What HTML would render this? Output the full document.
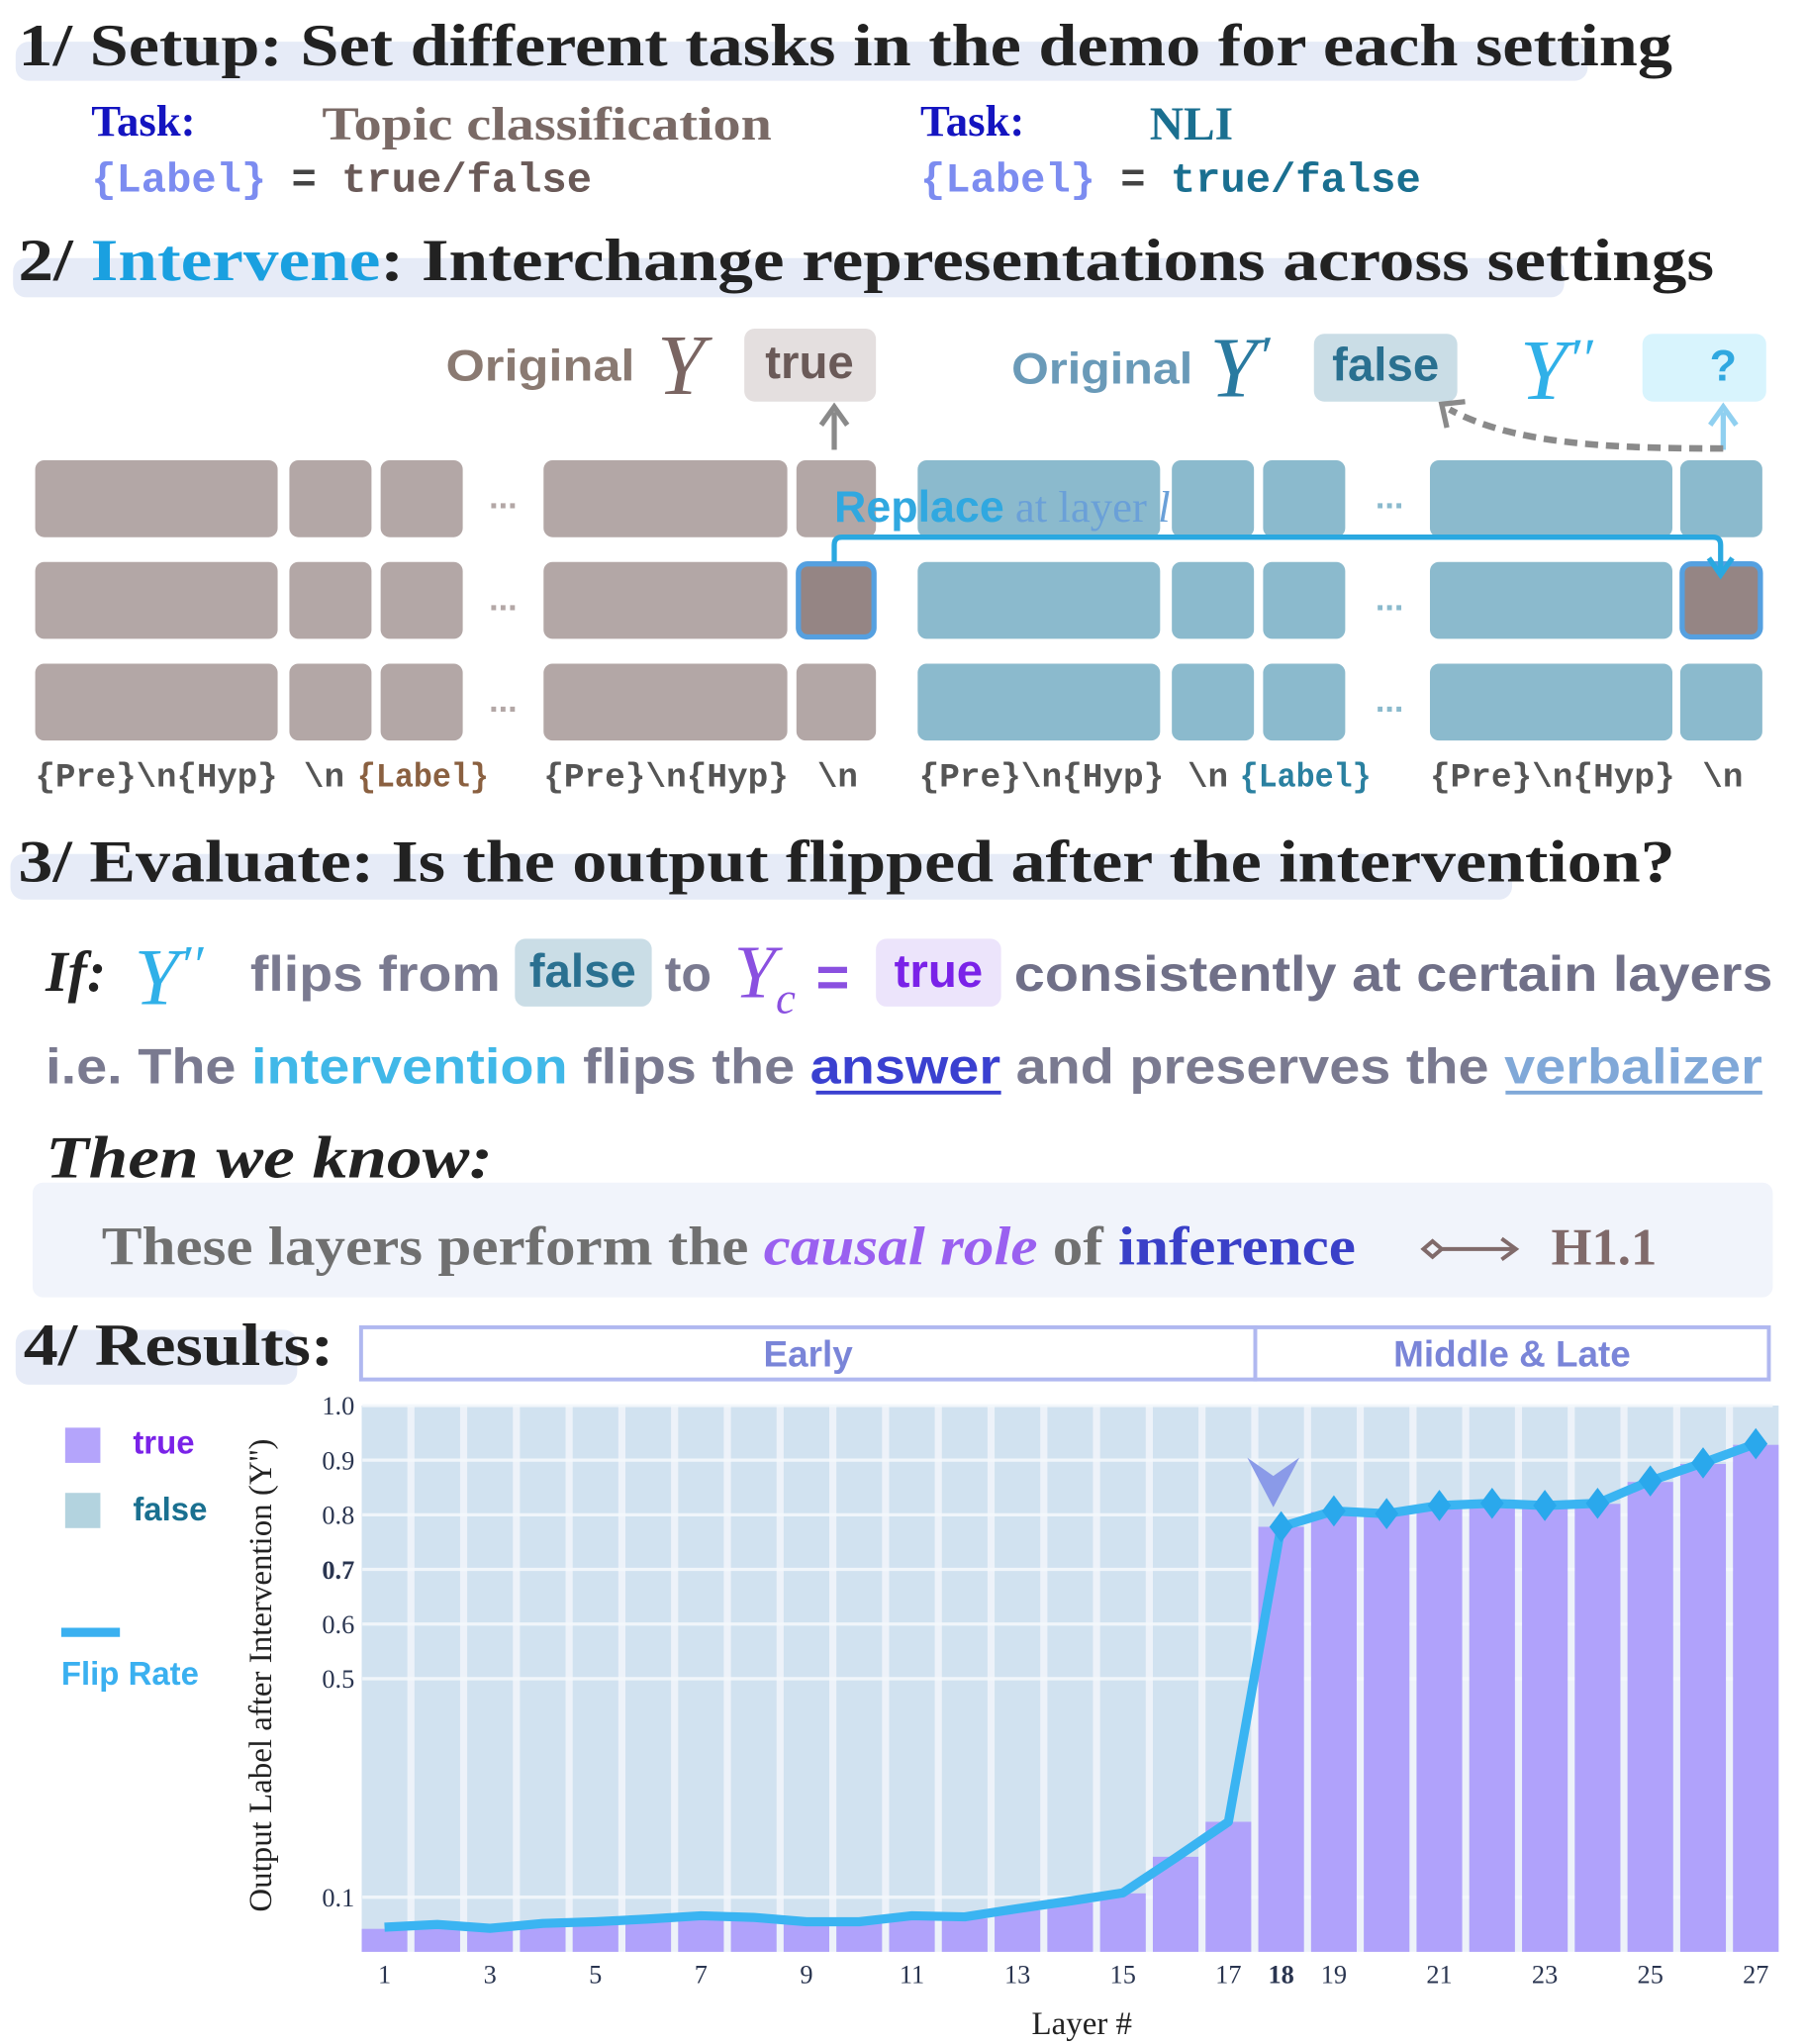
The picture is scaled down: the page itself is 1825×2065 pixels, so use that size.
<!DOCTYPE html>
<html><head><meta charset="utf-8"><style>
html,body{margin:0;padding:0;background:#fff;}
svg{display:block;}
.h{font-family:"Liberation Serif",serif;font-weight:bold;fill:#222;}
.s{font-family:"Liberation Sans",sans-serif;font-weight:bold;}
.m{font-family:"Liberation Mono",monospace;font-weight:bold;}
.r{font-family:"Liberation Serif",serif;}
</style></head><body>
<svg id="root" width="1825" height="2065" viewBox="0 0 1385.5 1567.7" preserveAspectRatio="none" xmlns="http://www.w3.org/2000/svg">
<!-- Section 1 -->
<rect x="12" y="32" width="1206" height="30" rx="10" fill="#e6ebf7"/>
<text class="h" x="14" y="50" font-size="46" textLength="1269" lengthAdjust="spacingAndGlyphs">1/ Setup: Set different tasks in the demo for each setting</text>
<text class="h" x="70" y="104" font-size="34" style="fill:#1414c0">Task:</text>
<text class="r" x="247" y="107" font-size="36" font-weight="bold" fill="#7a6a66" textLength="345" lengthAdjust="spacingAndGlyphs">Topic classification</text>
<text class="m" x="70" y="147" font-size="32"><tspan fill="#7c8cf0">{Label}</tspan><tspan fill="#444"> = </tspan><tspan fill="#6a5a58">true/false</tspan></text>
<text class="h" x="706" y="104" font-size="34" style="fill:#1414c0">Task:</text>
<text class="r" x="882" y="107" font-size="36" font-weight="bold" fill="#1a6f90">NLI</text>
<text class="m" x="706" y="147" font-size="32"><tspan fill="#7c8cf0">{Label}</tspan><tspan fill="#444"> = </tspan><tspan fill="#1a6f90">true/false</tspan></text>

<!-- Section 2 -->
<rect x="10" y="198" width="1190" height="30" rx="10" fill="#e6ebf7"/>
<text class="h" x="14" y="215" font-size="46" textLength="1301" lengthAdjust="spacingAndGlyphs">2/ <tspan style="fill:#1aa0e0">Intervene</tspan>: Interchange representations across settings</text>

<text class="s" x="342" y="292" font-size="34" fill="#8a7a72" textLength="145" lengthAdjust="spacingAndGlyphs">Original</text>
<text class="r" x="504" y="302" font-size="66" font-style="italic" fill="#7a6562">Y</text>
<rect x="571" y="252" width="101" height="56" rx="8" fill="#e4dfdf"/>
<text class="s" x="621" y="290" font-size="36" fill="#6a5a58" text-anchor="middle">true</text>

<text class="s" x="776" y="294" font-size="34" fill="#6a9ab8" textLength="139" lengthAdjust="spacingAndGlyphs">Original</text>
<text class="r" x="928" y="304" font-size="66" font-style="italic" fill="#2a7aa0">Y<tspan font-size="44" dy="-16">′</tspan></text>
<rect x="1008" y="256" width="110" height="52" rx="8" fill="#cadde6"/>
<text class="s" x="1063" y="292" font-size="36" fill="#2a7090" text-anchor="middle">false</text>
<text class="r" x="1166" y="306" font-size="66" font-style="italic" fill="#30b0e8">Y<tspan font-size="44" dy="-16">′′</tspan></text>
<rect x="1260" y="256" width="95" height="52" rx="8" fill="#d8f4fd"/>
<text class="s" x="1322" y="292" font-size="34" fill="#30a8e0" text-anchor="middle">?</text>

<g>
<line x1="640" y1="345" x2="640" y2="316" stroke="#8a8a8a" stroke-width="4"/>
<path d="M630 326 L640 312 L650 326" fill="none" stroke="#8a8a8a" stroke-width="4"/>
<line x1="1322" y1="345" x2="1322" y2="316" stroke="#90d0f0" stroke-width="4"/>
<path d="M1312 326 L1322 312 L1332 326" fill="none" stroke="#90d0f0" stroke-width="4"/>
<path d="M1322 344 C1230 344 1160 340 1112 314" fill="none" stroke="#8a8a8a" stroke-width="5" stroke-dasharray="10,6"/>
<path d="M1110 328 L1106 310 L1124 308" fill="none" stroke="#8a8a8a" stroke-width="4"/>
</g>

<g id="blocks"></g>
<g>
<path d="M640 431 L640 418 Q640 412 646 412 L1314 412 Q1320 412 1320 418 L1320 438" fill="none" stroke="#2aa8e0" stroke-width="4"/>
<path d="M1311 428 L1320 441 L1329 428" fill="none" stroke="#2aa8e0" stroke-width="4"/>
</g>
<text x="640" y="400" font-size="34"><tspan class="s" fill="#30a8e0">Replace</tspan><tspan class="r" fill="#6aa0d8"> at layer </tspan><tspan class="r" font-style="italic" fill="#6aa0d8">l</tspan></text>

<g class="m" font-size="26" fill="#555">
<text x="27" y="603" fill="#555" textLength="186" lengthAdjust="spacingAndGlyphs">{Pre}\n{Hyp}</text>
<text x="233" y="603" fill="#555">\n</text>
<text x="274" y="603" fill="#8a6040" textLength="101" lengthAdjust="spacingAndGlyphs">{Label}</text>
<text x="417" y="603" fill="#555" textLength="188" lengthAdjust="spacingAndGlyphs">{Pre}\n{Hyp}</text>
<text x="627" y="603" fill="#555">\n</text>
<text x="705" y="603" fill="#555" textLength="188" lengthAdjust="spacingAndGlyphs">{Pre}\n{Hyp}</text>
<text x="911" y="603" fill="#555">\n</text>
<text x="951" y="603" fill="#2a80a0" textLength="101" lengthAdjust="spacingAndGlyphs">{Label}</text>
<text x="1097" y="603" fill="#555" textLength="188" lengthAdjust="spacingAndGlyphs">{Pre}\n{Hyp}</text>
<text x="1306" y="603" fill="#555">\n</text>
</g>

<!-- Section 3 -->
<rect x="8" y="655" width="1152" height="35" rx="10" fill="#e6ebf7"/>
<text class="h" x="14" y="676" font-size="46" textLength="1271" lengthAdjust="spacingAndGlyphs">3/ Evaluate: Is the output flipped after the intervention?</text>

<text class="h" x="35" y="760" font-size="44" font-style="italic">If:</text>
<text class="r" x="103" y="770" font-size="62" font-style="italic" fill="#30b0e8">Y<tspan font-size="42" dy="-16">′′</tspan></text>
<text class="s" x="192" y="760" font-size="38" fill="#7a7a90" textLength="192" lengthAdjust="spacingAndGlyphs">flips from</text>
<rect x="395" y="720" width="105" height="52" rx="8" fill="#cadde6"/>
<text class="s" x="447" y="757" font-size="36" fill="#2a7090" text-anchor="middle">false</text>
<text class="s" x="510" y="760" font-size="38" fill="#7a7a90">to</text>
<text class="r" x="563" y="765" font-size="58" font-style="italic" fill="#8a50e0">Y<tspan font-size="34" dy="12">c</tspan></text>
<text class="s" x="626" y="764" font-size="44" fill="#8a50e0">=</text>
<rect x="672" y="720" width="96" height="52" rx="8" fill="#ece4fb"/>
<text class="s" x="720" y="757" font-size="36" fill="#7a22e8" text-anchor="middle">true</text>
<text class="s" x="778" y="760" font-size="38" fill="#707088" textLength="582" lengthAdjust="spacingAndGlyphs">consistently at certain layers</text>

<text class="s" x="35" y="831" font-size="38" fill="#7a7a90" textLength="1317" lengthAdjust="spacingAndGlyphs">i.e. The <tspan fill="#40b8e8">intervention</tspan> flips the <tspan fill="#3a40d0">answer</tspan> and preserves the <tspan fill="#80a8d8">verbalizer</tspan></text>
<line x1="626" y1="838" x2="768" y2="838" stroke="#3a40d0" stroke-width="3"/>
<line x1="1155" y1="838" x2="1352" y2="838" stroke="#80a8d8" stroke-width="3"/>

<text class="h" x="35" y="903" font-size="46" font-style="italic" textLength="343" lengthAdjust="spacingAndGlyphs">Then we know:</text>
<rect x="25" y="907" width="1335" height="88" rx="8" fill="#f1f4fb"/>
<text class="r" x="78" y="970" font-size="42" font-weight="bold" fill="#707070" textLength="962" lengthAdjust="spacingAndGlyphs">These layers perform the <tspan font-style="italic" fill="#9a60f0">causal role</tspan> of <tspan fill="#3a40c8">inference</tspan></text>
<g>
<path d="M1092 958 L1099 952 L1106 958 L1099 964 Z" fill="none" stroke="#806a6a" stroke-width="3"/>
<line x1="1106" y1="958" x2="1162" y2="958" stroke="#806a6a" stroke-width="3"/>
<path d="M1152 950 L1163 958 L1152 966" fill="none" stroke="#806a6a" stroke-width="3"/>
</g>
<text class="r" x="1190" y="970" font-size="40" font-weight="bold" fill="#806a6a">H1.1</text>

<!-- Section 4 -->
<rect x="12" y="1020" width="216" height="42" rx="10" fill="#e6ebf7"/>
<text class="h" x="18" y="1047" font-size="46" textLength="238" lengthAdjust="spacingAndGlyphs">4/ Results:</text>
<rect x="277" y="1018" width="686" height="40" fill="#fff" stroke="#b0b8f0" stroke-width="3"/>
<rect x="963" y="1018" width="394" height="40" fill="#fff" stroke="#b0b8f0" stroke-width="3"/>
<text class="s" x="620" y="1048" font-size="28" fill="#7a85d8" text-anchor="middle">Early</text>
<text class="s" x="1160" y="1048" font-size="28" fill="#7a85d8" text-anchor="middle">Middle &amp; Late</text>

<g>
<rect x="50" y="1095" width="27" height="27" fill="#b4a4fb"/>
<text class="s" x="102" y="1115" font-size="25" fill="#7a22e8">true</text>
<rect x="50" y="1145" width="27" height="27" fill="#b3d3df"/>
<text class="s" x="102" y="1166" font-size="25" fill="#1a7090">false</text>
<line x1="47" y1="1252" x2="92" y2="1252" stroke="#3ab0f0" stroke-width="7"/>
<text class="s" x="47" y="1292" font-size="25" fill="#3ab0f0">Flip Rate</text>
</g>

<g id="chart"></g>
<text class="r" x="0" y="0" font-size="25" fill="#222" text-anchor="middle" transform="translate(208,1285) rotate(-90)">Output Label after Intervention (Y'')</text>
<text class="r" x="830" y="1560" font-size="25" fill="#222" text-anchor="middle">Layer #</text>
</svg>
<script>
const NS='http://www.w3.org/2000/svg';
const blocksG=document.getElementById('blocks');
const cols=[[27,186],[222,63],[292,63],[417,187],[611,61],[704,186],[899,63],[969,63],[1097,186],[1289,63]];
const rowsY=[353,431,509];
rowsY.forEach((ry,ri)=>{
  cols.forEach((c,ci)=>{
    const r=document.createElementNS(NS,'rect');
    const blue=ci>=5;
    const special=ri===1&&(ci===4||ci===9);
    r.setAttribute('x',special?c[0]+1.5:c[0]);r.setAttribute('y',special?ry+1.5:ry);
    r.setAttribute('width',special?c[1]-3:c[1]);r.setAttribute('height',special?56:59);r.setAttribute('rx',7);
    r.setAttribute('fill',special?'#958584':(blue?'#8bbacd':'#b3a7a6'));
    if(special){r.setAttribute('stroke','#55a0e0');r.setAttribute('stroke-width','4');}
    
    
    blocksG.appendChild(r);
  });
  [386,1066].forEach((dx,k)=>{
    const t=document.createElementNS(NS,'text');
    t.setAttribute('x',dx);t.setAttribute('y',ry+37);t.setAttribute('text-anchor','middle');
    t.setAttribute('font-size','26');t.setAttribute('font-family','Liberation Sans, sans-serif');t.setAttribute('font-weight','bold');
    t.setAttribute('fill',k?'#8bbacd':'#b3a7a6');t.textContent='...';
    
    
    blocksG.appendChild(t);
  });
});
</script>
<script>
const layers=[1,2,3,4,5,6,7,8,9,10,11,12,13,14,15,16,17,18,19,20,21,22,23,24,25,26,27];
const trueVals=[0.042,0.047,0.040,0.050,0.052,0.057,0.064,0.061,0.053,0.053,0.064,0.061,0.076,0.090,0.107,0.174,0.238,0.778,0.805,0.800,0.815,0.820,0.815,0.820,0.860,0.893,0.928];
const flipVals=[0.045,0.050,0.043,0.052,0.055,0.060,0.066,0.063,0.055,0.055,0.066,0.064,0.079,0.093,0.108,0.172,0.238,0.778,0.807,0.802,0.817,0.821,0.817,0.821,0.862,0.895,0.930];
const yTicks=[1.0,0.9,0.8,0.7,0.6,0.5,0.1];
const yTickLabels=['1.0','0.9','0.8','0.7','0.6','0.5','0.1'];
const xTickLayers=[1,3,5,7,9,11,13,15,17,18,19,21,23,25,27];
const markerFrom=18;
const g=document.getElementById('chart');
const X0=278,X1=1360,Y0=1497,Y1=1078;
const y=v=>Y0-v*(Y0-Y1);
const step=(1347-295)/(layers.length-1);
const x=l=>295+(l-1)*step;
const bw=35;
function mk(tag,attrs){const e=document.createElementNS(NS,tag);for(const k in attrs)e.setAttribute(k,attrs[k]);g.appendChild(e);return e;}
const bgp=mk('rect',{x:X0,y:Y1,width:X1-X0,height:Y0-Y1,fill:'#edf2f9'});


layers.forEach(l=>{
  const b=mk('rect',{x:x(l)-bw/2,y:Y1,width:bw,height:Y0-Y1,fill:'#d1e2f0'});
  
  
});
yTicks.forEach((v,i)=>{
  const gl=mk('line',{x1:X0,x2:X1,y1:y(v),y2:y(v),stroke:'#f4f8fc','stroke-width':2.5,opacity:0.9});
  
  
  const t=mk('text',{x:272,y:y(v)+7,'text-anchor':'end','font-size':20,'font-family':'Liberation Serif, serif',fill:'#2a3550','font-weight':v===0.7?'bold':'normal'});
  t.textContent=yTickLabels[i];
  
  
});
layers.forEach((l,i)=>{
  const b=mk('rect',{x:x(l)-bw/2,y:y(trueVals[i]),width:bw,height:Y0-y(trueVals[i]),fill:'#b0a2fb'});
  
  
});
const pts=layers.map((l,i)=>x(l)+','+y(flipVals[i])).join(' ');
const pl=mk('polyline',{points:pts,fill:'none',stroke:'#3ab4f2','stroke-width':7,'stroke-linejoin':'round'});


layers.forEach((l,i)=>{
  if(l<markerFrom)return;
  const cx=x(l),cy=y(flipVals[i]);
  const d=mk('path',{d:`M${cx} ${cy-12} L${cx+9} ${cy} L${cx} ${cy+12} L${cx-9} ${cy} Z`,fill:'#2aa8ec'});
  
  
});
const mx=x(markerFrom)-6;
const ch=mk('path',{d:`M${mx-20} ${1118} L${mx} ${1132} L${mx+20} ${1118} L${mx} ${1156} Z`,fill:'#8a9ae8'});


xTickLayers.forEach(l=>{
  const t=mk('text',{x:x(l),y:1521,'text-anchor':'middle','font-size':20,'font-family':'Liberation Serif, serif',fill:'#2a3550','font-weight':l===18?'bold':'normal'});
  t.textContent=String(l);
  
  
});
</script>
</body></html>
